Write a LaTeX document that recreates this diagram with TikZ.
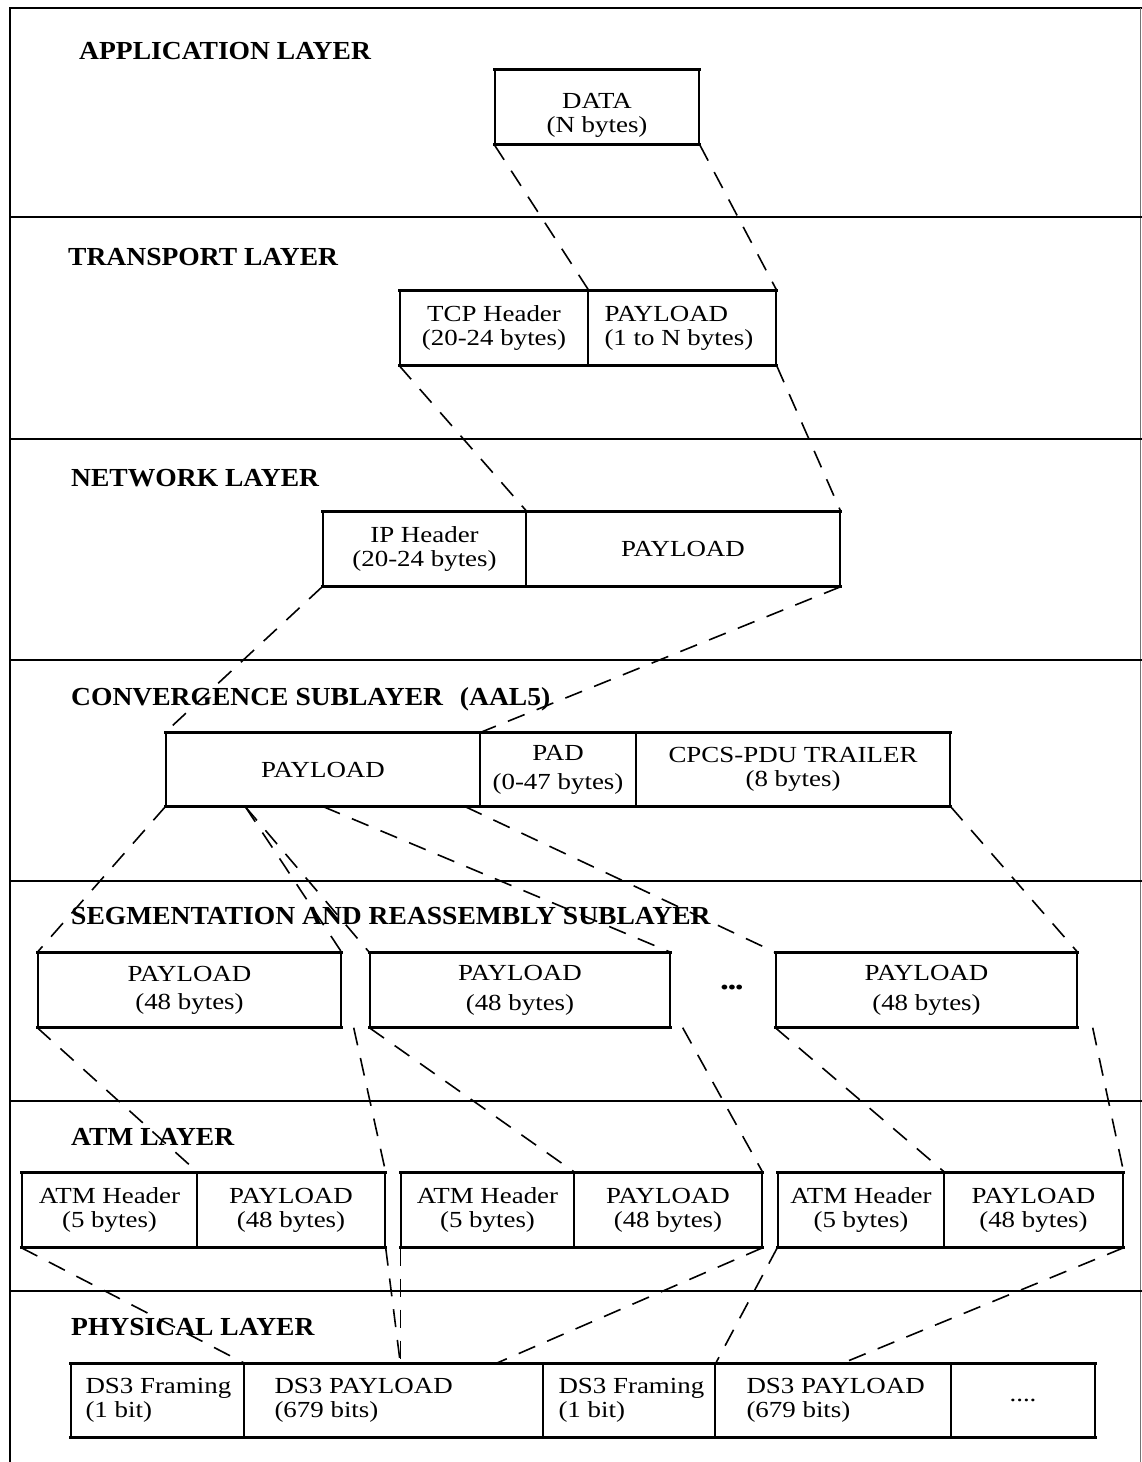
\documentclass[tikz,border=0pt]{standalone}
\usepackage{fontspec}
\setmainfont{Liberation Serif}
\newfontfamily\pktfont{Liberation Serif}[FakeStretch=1.17]
\newfontfamily\lyrfont{Liberation Serif}[FakeStretch=1.06]
\usetikzlibrary{calc}
\newcommand\pktbox[6]{\node[cell, minimum width={(#4)-(#2)}, minimum height={(#5)-(#3)}] (#1) at ({(#2+#4)/2},{(#3+#5)/2}) {#6};}
\newcommand\pktboxl[7]{\node[cell, minimum width={(#4)-(#2)}, minimum height={(#5)-(#3)}] (#1) at ({(#2+#4)/2},{(#3+#5)/2}) {};
  \node[plain, align=left, anchor=west] (#1t) at ($(#1.west)+(#6,0)$) {#7};}
\newcommand\pktrim[2]{\draw[rim] (#1.north west) -- (#2.north east) (#1.south west) -- (#2.south east);}
\begin{document}
\begin{tikzpicture}[x=1pt,y=-1pt,
  cell/.style={draw, line width=1.4pt, inner sep=0pt, align=center, font=\pktfont\fontsize{23}{24}\selectfont},
  rim/.style={line width=2.6pt, line cap=rect},
  sep/.style={line width=2.6pt},
  lyr/.style={anchor=base west, inner sep=0pt, font=\lyrfont\bfseries\fontsize{26}{28}\selectfont},
  link/.style={line width=1.6pt, dash pattern=on 18pt off 13pt},
  plain/.style={inner sep=0pt, font=\pktfont\fontsize{23}{24}\selectfont}
]
\useasboundingbox (0,0) rectangle (1142,1462);
\fill[white] (0,0) rectangle (1142,1462);
% frame and layer separators
\draw[line width=1.8pt] (10,1462) -- (10,8) -- (1142,8);
\draw[line width=0.8pt, black!55] (1140.5,8) -- (1140.5,1462);
\foreach \yy in {217,439,660,881,1101,1291} \draw[sep] (10,\yy) -- (1142,\yy);

% layer labels
\node[lyr] (lapp) at (79,59) {APPLICATION LAYER};
\node[lyr] (ltra) at (68,265) {TRANSPORT LAYER};
\node[lyr] (lnet) at (71,486) {NETWORK LAYER};
\node[lyr] (lcs)  at (71,705) {CONVERGENCE SUBLAYER\hspace{10pt} (AAL5)};
\node[lyr] (lsar) at (71,924) {SEGMENTATION AND REASSEMBLY SUBLAYER};
\node[lyr] (latm) at (71,1145) {ATM LAYER};
\node[lyr] (lphy) at (71,1335) {PHYSICAL LAYER};

% application
\pktbox{data}{495}{70}{699}{144}{}
\node[plain, align=center] (datat) at ($(data.center)+(0,8)$) {DATA\\(N bytes)};
\pktrim{data}{data}
% transport
\pktbox{tcp}{400}{291}{588}{365}{TCP Header\\(20-24 bytes)}
\pktboxl{tpay}{588}{291}{776}{365}{17}{PAYLOAD\\(1 to N bytes)}
\pktrim{tcp}{tpay}
% network
\pktbox{iph}{323}{512}{526}{586}{IP Header\\(20-24 bytes)}
\pktbox{ipay}{526}{512}{840}{586}{PAYLOAD}
\pktrim{iph}{ipay}
% convergence
\pktbox{cpay}{166}{733}{480}{806}{PAYLOAD}
\pktbox{pad}{480}{733}{636}{806}{PAD\\[5pt](0-47 bytes)}
\pktbox{trl}{636}{733}{950}{806}{CPCS-PDU TRAILER\\(8 bytes)}
\pktrim{cpay}{trl}
% SAR
\pktbox{s1}{38}{953}{341}{1027}{PAYLOAD\\[4pt](48 bytes)}
\pktbox{s2}{370}{953}{670}{1027}{PAYLOAD\\[6pt](48 bytes)}
\pktbox{s3}{776}{953}{1077}{1027}{PAYLOAD\\[6pt](48 bytes)}
\pktrim{s1}{s1}\pktrim{s2}{s2}\pktrim{s3}{s3}
\node[inner sep=0pt, font=\pktfont\bfseries\fontsize{18}{18}\selectfont] (sdots) at (732,989) {•••};
% ATM
\pktbox{a1h}{22}{1173}{197}{1247}{ATM Header\\(5 bytes)}
\pktbox{a1p}{197}{1173}{385}{1247}{PAYLOAD\\(48 bytes)}
\pktbox{a2h}{401}{1173}{574}{1247}{ATM Header\\(5 bytes)}
\pktbox{a2p}{574}{1173}{762}{1247}{PAYLOAD\\(48 bytes)}
\pktbox{a3h}{778}{1173}{944}{1247}{ATM Header\\(5 bytes)}
\pktbox{a3p}{944}{1173}{1123}{1247}{PAYLOAD\\(48 bytes)}
\pktrim{a1h}{a1p}\pktrim{a2h}{a2p}\pktrim{a3h}{a3p}
% physical
\pktboxl{p1}{71}{1364}{244}{1437}{15}{DS3 Framing\\(1 bit)}
\pktboxl{p2}{244}{1364}{543}{1437}{31}{DS3 PAYLOAD\\(679 bits)}
\pktboxl{p3}{543}{1364}{715}{1437}{16}{DS3 Framing\\(1 bit)}
\pktboxl{p4}{715}{1364}{951}{1437}{32}{DS3 PAYLOAD\\(679 bits)}
\pktbox{p5}{951}{1364}{1095}{1437}{....}
\pktrim{p1}{p5}

% connectors: application -> transport
\draw[link] (data.south west) -- (tcp.north east);
\draw[link] (data.south east) -- (tpay.north east);
% transport -> network
\draw[link] (tcp.south west) -- (iph.north east);
\draw[link] (tpay.south east) -- (ipay.north east);
% network -> convergence
\draw[link] (iph.south west) -- (cpay.north west);
\draw[link] (ipay.south east) -- (cpay.north east);
% convergence -> SAR
\coordinate (c1) at ($(cpay.south west)+(80,0)$);
\coordinate (c2) at ($(cpay.south west)+(158,0)$);
\coordinate (c3) at ($(cpay.south west)+(300,0)$);
\draw[link] (cpay.south west) -- (s1.north west);
\draw[link] (c1) -- (s1.north east);
\draw[link] (c1) -- (s2.north west);
\draw[link] (c2) -- (s2.north east);
\draw[link] (c3) -- (s3.north west);
\draw[link] (trl.south east) -- (s3.north east);
% SAR -> ATM
\coordinate (d1) at ($(s1.south east)+(12,0)$);
\coordinate (d2) at ($(s2.south east)+(12,0)$);
\coordinate (d3) at ($(s3.south east)+(15,0)$);
\draw[link] (s1.south west) -- (a1h.north east);
\draw[link] (d1) -- (a1p.north east);
\draw[link] (s2.south west) -- (a2h.north east);
\draw[link] (d2) -- (a2p.north east);
\draw[link] (s3.south west) -- (a3h.north east);
\draw[link] (d3) -- (a3p.north east);
% ATM -> physical
\coordinate (q1) at ($(p2.north west)+(157,0)$);
\coordinate (q2) at ($(p2.north west)+(253,0)$);
\coordinate (q3) at ($(p4.north west)+(128,0)$);
\draw[link] (a1h.south west) -- (p1.north east);
\draw[link] (a1p.south east) -- (q1);
\draw[link] (a2h.south west) -- (q1);
\draw[link] (a2p.south east) -- (q2);
\draw[link] (a3h.south west) -- (p3.north east);
\draw[link] (a3p.south east) -- (q3);
\end{tikzpicture}
\end{document}
